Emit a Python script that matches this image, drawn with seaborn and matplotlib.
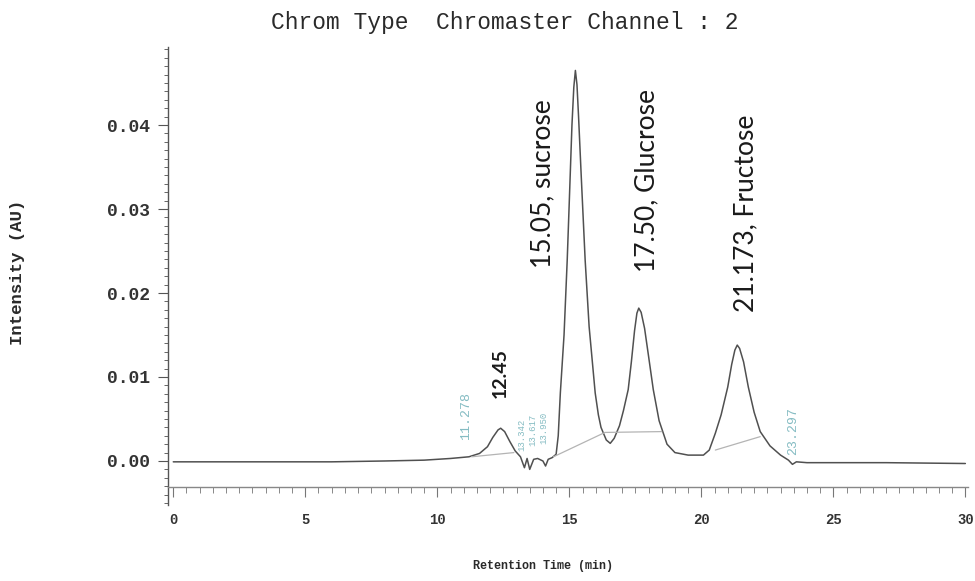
import matplotlib
matplotlib.use("Agg")
import matplotlib.pyplot as plt
import seaborn as sns
import pandas as pd
from matplotlib.ticker import MultipleLocator

# ---------------- data ----------------
time_min = [0.0, 2.0, 4.0, 6.0, 8.0, 9.5, 10.5, 11.2, 11.6, 11.9, 12.1, 12.3, 12.4,
            12.55, 12.75, 12.95, 13.15, 13.3, 13.4, 13.5, 13.65, 13.8, 14.0, 14.1,
            14.2, 14.35, 14.5, 14.58, 14.66, 14.8, 14.92, 15.0, 15.1, 15.17, 15.23,
            15.29, 15.35, 15.45, 15.6, 15.75, 15.98, 16.1, 16.2, 16.4, 16.55,
            16.7, 16.9, 17.05, 17.23, 17.35, 17.47, 17.56, 17.63, 17.72, 17.85,
            18.0, 18.18, 18.4, 18.7, 19.0, 19.5, 20.08, 20.3, 20.53, 20.75, 21.0,
            21.15, 21.27, 21.36, 21.45, 21.6, 21.78, 22.0, 22.23, 22.6, 23.0,
            23.3, 23.45, 23.6, 24.0, 27.0, 30.0]
intensity = [-0.0001, -0.0001, -0.0001, -0.0001, 0.0000, 0.0001, 0.0003, 0.0005,
             0.0009, 0.0017, 0.0028, 0.0037, 0.0039, 0.0035, 0.0023, 0.0012,
             0.0005, -0.0008, 0.0003, -0.0010, 0.0002, 0.0003, 0.0000, -0.0006,
             0.0002, 0.0004, 0.0008, 0.0030, 0.0081, 0.0150, 0.0239, 0.0310,
             0.0400, 0.0445, 0.0465, 0.0448, 0.0410, 0.0340, 0.0239, 0.0160,
             0.0081, 0.0055, 0.0040, 0.0025, 0.0021, 0.0027, 0.0042, 0.0060,
             0.0085, 0.0118, 0.0155, 0.0176, 0.0182, 0.0177, 0.0158, 0.0125,
             0.0085, 0.0048, 0.0020, 0.0010, 0.0007, 0.0007, 0.0013, 0.0033,
             0.0055, 0.0088, 0.0115, 0.0132, 0.0138, 0.0134, 0.0118, 0.0088,
             0.0058, 0.0035, 0.0018, 0.0007, 0.0001, -0.0004, -0.0001, -0.0002,
             -0.0002, -0.0003]

# integration baselines drawn under the peaks
base1_t = [14.4, 16.35, 18.5]
base1_y = [0.0005, 0.0034, 0.0035]
base2_t = [20.53, 22.23]
base2_y = [0.0013, 0.0029]
base0_t = [11.3, 12.9]
base0_y = [0.0005, 0.0010]

peak_labels = ["12.45", "15.05, sucrose", "17.50, Glucrose", "21.173, Fructose"]
peak_label_t = [12.39, 14.0, 17.95, 21.67]
peak_label_y = [0.0075, 0.0230, 0.0225, 0.0177]

marker_labels = ["11.278", "13.342", "13.617", "13.950", "23.297"]
marker_t = [11.1, 13.22, 13.62, 14.02, 23.48]
marker_y = [0.0025, 0.0012, 0.0018, 0.0020, 0.0007]

x_ticks = [0, 5, 10, 15, 20, 25, 30]
y_ticks = [0.00, 0.01, 0.02, 0.03, 0.04]

# ---------------- plot ----------------
sns.set_theme(style="white")
plt.rcParams["font.family"] = ["Liberation Mono", "DejaVu Sans"]

fig = plt.figure(figsize=(9.75, 5.81), dpi=100)
ax = fig.add_axes([168 / 975, 1 - 505 / 581, 800 / 975, 458 / 581])

trace = pd.DataFrame({"t": time_min, "y": intensity})
sns.lineplot(data=trace, x="t", y="y", ax=ax, color="#505050", linewidth=1.1,
             sort=True, estimator=None)
for bt, by in [(base0_t, base0_y), (base1_t, base1_y), (base2_t, base2_y)]:
    sns.lineplot(x=bt, y=by, ax=ax, color="#b4b4b4", linewidth=0.9,
                 estimator=None, sort=False)

ax.set_xlim(-0.2, 30.1)
ax.set_ylim(-0.00524, 0.04929)

for s in ["top", "right"]:
    ax.spines[s].set_visible(False)
ax.spines["bottom"].set_position(("data", -0.0031))
ax.spines["left"].set_color("#555555")
ax.spines["bottom"].set_color("#888888")
ax.spines["left"].set_linewidth(1.0)
ax.spines["bottom"].set_linewidth(1.0)

ax.set_xticks(x_ticks)
ax.set_yticks(y_ticks)
ax.set_yticklabels([f"{v:.2f}" for v in y_ticks])
ax.xaxis.set_minor_locator(MultipleLocator(0.5))
ax.yaxis.set_minor_locator(MultipleLocator(0.001))
ax.tick_params(axis="x", which="major", direction="out", length=7, width=0.8,
               color="#777777", pad=12, labelsize=10, labelcolor="#333333")
ax.tick_params(axis="x", which="minor", direction="out", length=4, width=0.7,
               color="#888888")
ax.tick_params(axis="y", which="major", direction="out", length=7, width=0.8,
               color="#555555", pad=6, labelsize=13, labelcolor="#333333")
ax.tick_params(axis="y", which="minor", direction="out", length=3, width=0.7,
               color="#666666")
ax.tick_params(bottom=True, left=True, which="both")
for lab in ax.get_xticklabels() + ax.get_yticklabels():
    lab.set_fontweight("bold")

ax.set_xlabel("")
ax.set_ylabel("")

for txt, tx, ty in zip(peak_labels, peak_label_t, peak_label_y):
    small = txt == "12.45"
    ax.text(tx, ty, txt, rotation=90, ha="center", va="bottom",
            fontsize=14 if small else 19, family=["Lato", "DejaVu Sans"],
            fontweight="bold" if small else "normal", color="#1a1a1a")

for txt, tx, ty in zip(marker_labels, marker_t, marker_y):
    cluster = 13.0 < tx < 14.5
    ax.text(tx, ty, txt, rotation=90, ha="center", va="bottom",
            fontsize=6.5 if cluster else 9.5, color="#6fb0b8", alpha=0.85)

fig.text(505 / 975, 1 - 22 / 581, "Chrom Type  Chromaster Channel : 2",
         ha="center", va="center", fontsize=16.5, color="#2a2a2a")
fig.text(18 / 975, 1 - 272 / 581, "Intensity (AU)", rotation=90, ha="center",
         va="center", fontsize=12.5, color="#2a2a2a", fontweight="bold")
fig.text(543 / 975, 1 - 566 / 581, "Retention Time (min)", ha="center",
         va="center", fontsize=8.5, color="#2a2a2a", fontweight="bold")

fig.savefig("out.png", dpi=100, facecolor="white")
